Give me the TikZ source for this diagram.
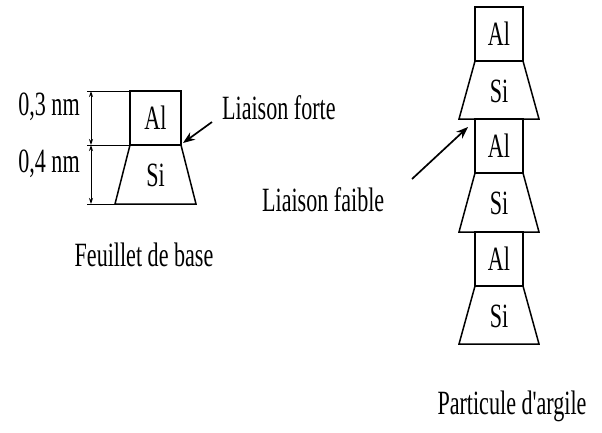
\documentclass[tikz,border=0pt]{standalone}
\usepackage{fontspec}
\setmainfont{Liberation Serif}[Ligatures=TeXOff]
\usetikzlibrary{arrows.meta}
\begin{document}
\begin{tikzpicture}[x=1pt,y=-1pt,
  shape line/.style={line width=1.5pt, line join=miter},
  lbl/.style={font=\fontsize{34}{36}\selectfont, inner sep=0pt, xscale=0.65},
  dim/.style={line width=1pt, {Stealth[length=6pt,width=4pt]}-{Stealth[length=6pt,width=4pt]}},
  tick/.style={line width=1pt},
  pointer/.style={line width=1.7pt, -{Stealth[length=12pt,width=9pt]}}]
\useasboundingbox (0,0) rectangle (602,432);

% ---- basic sheet ----
\draw[shape line] (130,91) rectangle (181,145);
\draw[shape line] (130,145) -- (181,145) -- (196,204) -- (115,204) -- cycle;
\node[lbl] (al0) at (155.5,118) {Al};
\node[lbl] (si0) at (155.5,175) {Si};

% thickness dimensions
\draw[tick] (87,91) -- (130,91);
\draw[tick] (87,145) -- (130,145);
\draw[tick] (87,204) -- (115,204);
\coordinate (d0) at (91,91);
\coordinate (d1) at (91,145);
\coordinate (d2) at (91,204);
\draw[dim] (d0) -- (d1);
\draw[dim] (d1) -- (d2);
\node[lbl] (t03) at (49,107) {0,3 nm};
\node[lbl] (t04) at (49,164) {0,4 nm};

% strong bond
\node[lbl, anchor=west] (forte) at (222,108) {Liaison forte};
\coordinate (fortetail) at (212,122);
\coordinate (fortetip) at (183,143);
\draw[pointer] (fortetail) -- (fortetip);

\node[lbl, anchor=base] (feuillet) at (144,266) {Feuillet de base};

% ---- clay particle: three stacked sheets ----
\foreach \i/\ya/\yb/\yc in {1/7/61/119, 2/119/173/232, 3/232/286/344} {
  \draw[shape line] (475,\ya) rectangle (523,\yb);
  \draw[shape line] (475,\yb) -- (523,\yb) -- (539,\yc) -- (459,\yc) -- cycle;
  \node[lbl] (al\i) at (499,{(\ya+\yb)/2}) {Al};
  \node[lbl] (si\i) at (499,{(\yb+\yc)/2+1}) {Si};
}

% weak bond
\node[lbl, anchor=west] (faible) at (262,200) {Liaison faible};
\coordinate (faibletail) at (412,179);
\coordinate (faibletip) at (468,127);
\draw[pointer] (faibletail) -- (faibletip);

\node[lbl, anchor=base] (particule) at (512,414) {Particule d'argile};
\end{tikzpicture}
\end{document}
